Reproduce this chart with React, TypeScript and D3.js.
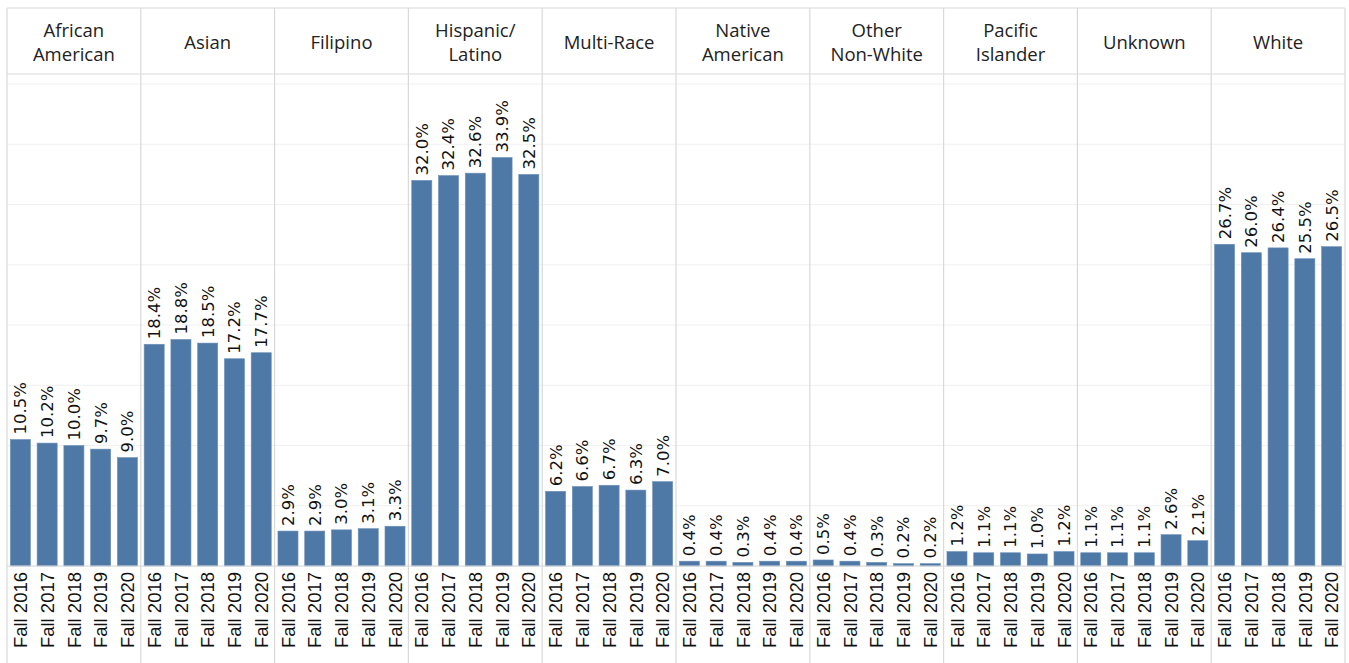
import React from "react";
import * as d3 from "d3";

const groups = [
  "African American",
  "Asian",
  "Filipino",
  "Hispanic/ Latino",
  "Multi-Race",
  "Native American",
  "Other Non-White",
  "Pacific Islander",
  "Unknown",
  "White",
];
const headerLines: string[][] = [
  ["African", "American"],
  ["Asian"],
  ["Filipino"],
  ["Hispanic/", "Latino"],
  ["Multi-Race"],
  ["Native", "American"],
  ["Other", "Non-White"],
  ["Pacific", "Islander"],
  ["Unknown"],
  ["White"],
];
const years = ["Fall 2016", "Fall 2017", "Fall 2018", "Fall 2019", "Fall 2020"];

const africanAmerican = [10.5, 10.2, 10.0, 9.7, 9.0];
const asian = [18.4, 18.8, 18.5, 17.2, 17.7];
const filipino = [2.9, 2.9, 3.0, 3.1, 3.3];
const hispanicLatino = [32.0, 32.4, 32.6, 33.9, 32.5];
const multiRace = [6.2, 6.6, 6.7, 6.3, 7.0];
const nativeAmerican = [0.4, 0.4, 0.3, 0.4, 0.4];
const otherNonWhite = [0.5, 0.4, 0.3, 0.2, 0.2];
const pacificIslander = [1.2, 1.1, 1.1, 1.0, 1.2];
const unknown = [1.1, 1.1, 1.1, 2.6, 2.1];
const white = [26.7, 26.0, 26.4, 25.5, 26.5];

const seriesByGroup = [
  africanAmerican,
  asian,
  filipino,
  hispanicLatino,
  multiRace,
  nativeAmerican,
  otherNonWhite,
  pacificIslander,
  unknown,
  white,
];
const gridTicks = [0, 5, 10, 15, 20, 25, 30, 35, 40];

const W = 1349;
const H = 663;
const LEFT = 7;
const RIGHT = 1345;
const TOP = 8;
const HEADER_BOTTOM = 74;
const BASE = 566;
const PLOT_TOP = 84;

const BAR = "#4e79a7";
const BORDER = "#d9d9d9";
const GRID = "#f0f0f0";

export default function App() {
  const px = d3.scaleBand<string>().domain(groups).range([LEFT, RIGHT]).padding(0);
  const bx = d3
    .scaleBand<string>()
    .domain(years)
    .range([0, px.bandwidth()])
    .paddingInner(0.25)
    .paddingOuter(0.125);
  const y = d3.scaleLinear().domain([0, 40]).range([BASE, PLOT_TOP]);

  return (
    <svg
      width={W}
      height={H}
      style={{ position: "absolute", left: 0, top: 0, background: "#fff" }}
    >
      {/* gridlines */}
      {gridTicks.map((t) => (
        <line
          key={"g" + t}
          x1={LEFT}
          x2={RIGHT}
          y1={y(t)}
          y2={y(t)}
          stroke={GRID}
          strokeWidth={1}
        />
      ))}
      {/* bars and labels */}
      {groups.map((g, gi) => {
        const x0 = px(g)!;
        const vals = seriesByGroup[gi];
        return (
          <g key={g}>
            {years.map((yr, i) => {
              const v = vals[i];
              const bx0 = x0 + bx(yr)!;
              const cx = bx0 + bx.bandwidth() / 2;
              return (
                <g key={yr}>
                  <rect
                    x={bx0}
                    y={y(v)}
                    width={bx.bandwidth()}
                    height={BASE - y(v)}
                    fill={BAR}
                    stroke="#6d90b8"
                    strokeWidth={0.6}
                  />
                  <text
                    transform={`translate(${cx},${y(v) - 5}) rotate(-90)`}
                    dy="0.36em"
                    textAnchor="start"
                    fontFamily="DejaVu Sans, Verdana, sans-serif"
                    fontSize={16.5}
                    fill="#111"
                  >
                    {v.toFixed(1) + "%"}
                  </text>
                  <text
                    transform={`translate(${cx},${BASE + 6}) rotate(-90)`}
                    dy="0.36em"
                    textAnchor="end"
                    fontFamily="Liberation Sans, Arial, sans-serif"
                    fontSize={18.5}
                    fill="#111"
                  >
                    {yr}
                  </text>
                </g>
              );
            })}
            {headerLines[gi].map((ln, li) => {
              const n = headerLines[gi].length;
              const cy = (TOP + HEADER_BOTTOM) / 2 + 1.5 + (li - (n - 1) / 2) * 24;
              return (
                <text
                  key={ln}
                  x={x0 + px.bandwidth() / 2}
                  y={cy}
                  dy="0.35em"
                  textAnchor="middle"
                  fontFamily="Open Sans, sans-serif"
                  fontSize={18.5}
                  fill="#222"
                >
                  {ln}
                </text>
              );
            })}
          </g>
        );
      })}
      {/* frame lines */}
      {groups.map((g) => (
        <line
          key={"v" + g}
          x1={px(g)!}
          x2={px(g)!}
          y1={TOP}
          y2={H}
          stroke={BORDER}
          strokeWidth={1.2}
        />
      ))}
      <line x1={RIGHT} x2={RIGHT} y1={TOP} y2={H} stroke={BORDER} strokeWidth={1.2} />
      <line x1={LEFT} x2={RIGHT} y1={TOP} y2={TOP} stroke={BORDER} strokeWidth={1.2} />
      <line
        x1={LEFT}
        x2={RIGHT}
        y1={HEADER_BOTTOM}
        y2={HEADER_BOTTOM}
        stroke={BORDER}
        strokeWidth={1.2}
      />
      <line x1={LEFT} x2={RIGHT} y1={BASE} y2={BASE} stroke={BORDER} strokeWidth={1.2} />
    </svg>
  );
}
